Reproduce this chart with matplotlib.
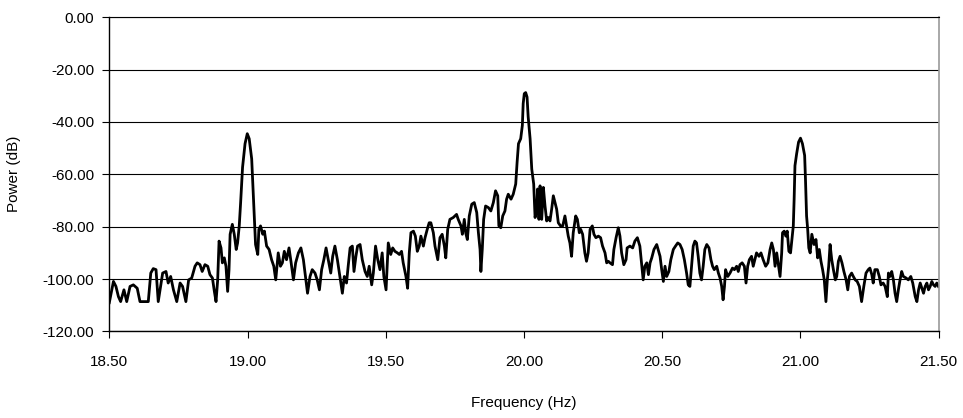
import matplotlib
matplotlib.use('Agg')
import matplotlib.pyplot as plt

plt.rcParams['font.family'] = ['Liberation Sans', 'DejaVu Sans']

# spectrum trace (Hz, dB)
freq = [18.500, 18.515, 18.524, 18.533, 18.541, 18.553, 18.563, 18.575, 18.587, 18.601,
        18.611, 18.641, 18.650, 18.659, 18.669, 18.677, 18.693, 18.705, 18.713, 18.722,
        18.732, 18.744, 18.756, 18.765, 18.777, 18.787, 18.798, 18.810, 18.818,
        18.828, 18.836, 18.846, 18.856, 18.864, 18.873, 18.880, 18.886, 18.892, 18.897,
        18.904, 18.909, 18.916, 18.922, 18.928, 18.933, 18.937, 18.945, 18.952, 18.959,
        18.964, 18.970, 18.975, 18.982, 18.991, 18.999, 19.006, 19.015, 19.021, 19.025,
        19.029, 19.037, 19.041, 19.047, 19.055, 19.061, 19.069, 19.078, 19.087, 19.095,
        19.102, 19.108, 19.111, 19.119, 19.126, 19.133, 19.141, 19.150, 19.157, 19.166,
        19.174, 19.184, 19.193, 19.202, 19.210, 19.217, 19.226, 19.234,
        19.244, 19.252, 19.260, 19.268, 19.276, 19.284, 19.292, 19.301, 19.308, 19.316,
        19.325, 19.334, 19.343, 19.350, 19.358, 19.364, 19.371, 19.379, 19.385, 19.392,
        19.398, 19.407, 19.415, 19.425, 19.433, 19.440, 19.449, 19.455, 19.463, 19.471,
        19.479, 19.487, 19.493, 19.501, 19.509, 19.518, 19.525, 19.533, 19.542, 19.549,
        19.557, 19.563, 19.573, 19.579, 19.585, 19.591, 19.600, 19.607, 19.614, 19.621,
        19.627, 19.636, 19.642, 19.650, 19.657,
        19.663, 19.672, 19.678, 19.688, 19.696, 19.704, 19.712, 19.717, 19.724, 19.732,
        19.744, 19.756, 19.762, 19.772, 19.777, 19.784, 19.789, 19.795, 19.802, 19.811,
        19.820, 19.829, 19.835, 19.841, 19.844, 19.849, 19.854, 19.861, 19.871, 19.880,
        19.889, 19.897, 19.905, 19.909, 19.916, 19.923, 19.931, 19.937, 19.943, 19.953,
        19.961, 19.970, 19.975, 19.980, 19.988, 19.994, 19.997, 20.001, 20.006, 20.011,
        20.015, 20.022, 20.028, 20.035, 20.040, 20.046, 20.049, 20.054,
        20.058, 20.064, 20.070, 20.076, 20.082, 20.088, 20.094, 20.100, 20.106, 20.112,
        20.118, 20.124, 20.132, 20.140, 20.148, 20.154, 20.160, 20.166, 20.172, 20.178,
        20.187, 20.193, 20.200, 20.205, 20.212, 20.220, 20.226, 20.232, 20.239, 20.247,
        20.253, 20.260, 20.269, 20.277, 20.284, 20.293, 20.299, 20.305, 20.311, 20.320,
        20.325, 20.333, 20.341, 20.347, 20.353, 20.361, 20.369, 20.373, 20.383, 20.393,
        20.401, 20.410, 20.419, 20.425, 20.431, 20.437, 20.444, 20.450, 20.456, 20.462,
        20.470, 20.480,
        20.492, 20.498, 20.504, 20.510, 20.516, 20.524, 20.531, 20.540, 20.548, 20.556,
        20.564, 20.572, 20.580, 20.588, 20.594, 20.600, 20.606, 20.612, 20.618, 20.624,
        20.630, 20.636, 20.642, 20.648, 20.654, 20.661, 20.669, 20.676, 20.682, 20.688,
        20.697, 20.703, 20.709, 20.715, 20.720, 20.725, 20.729, 20.737, 20.745, 20.754,
        20.761, 20.769, 20.775, 20.781, 20.789, 20.797, 20.803, 20.809, 20.815, 20.823,
        20.829, 20.835, 20.841, 20.850, 20.857, 20.865, 20.874, 20.882, 20.890, 20.896,
        20.902, 20.908, 20.914, 20.920, 20.926, 20.932, 20.935, 20.941, 20.947, 20.952,
        20.958, 20.964, 20.969, 20.974, 20.977, 20.980, 20.986, 20.993, 21.000, 21.007,
        21.015, 21.018, 21.022, 21.026, 21.030, 21.035, 21.041, 21.049, 21.056, 21.062,
        21.068, 21.074, 21.080, 21.086, 21.092, 21.097, 21.102, 21.107, 21.113, 21.119,
        21.126, 21.131, 21.137, 21.143, 21.150, 21.157, 21.165, 21.171, 21.177, 21.185,
        21.191, 21.198, 21.205, 21.213, 21.221, 21.229, 21.237, 21.245, 21.251, 21.258,
        21.263, 21.269, 21.278, 21.285, 21.291, 21.299, 21.306, 21.314,
        21.318, 21.324, 21.330, 21.336, 21.342, 21.348, 21.354, 21.360, 21.366, 21.372,
        21.382, 21.390, 21.399, 21.406, 21.415, 21.421, 21.427, 21.433, 21.439, 21.445,
        21.451, 21.457, 21.463, 21.469, 21.475, 21.481, 21.487, 21.493, 21.499]

power = [-109.0, -100.9, -102.8, -106.7, -108.6, -104.1, -108.6, -102.8, -102.2, -103.5,
         -108.6, -108.6, -97.7, -96.0, -96.4, -108.6, -97.7, -97.1, -101.5, -99.0,
         -104.1, -108.6, -101.5, -102.8, -108.6, -100.3, -99.6, -95.1, -93.8,
         -94.5, -97.1, -94.5, -95.1, -98.3, -99.6, -104.7, -108.6, -100.3, -85.5,
         -88.1, -93.8, -91.9, -95.1, -104.7, -96.4, -82.9, -79.1, -82.9, -88.7,
         -86.2, -79.7, -70.8, -57.3, -48.3, -44.5, -46.4, -54.1, -68.2, -77.2,
         -86.8, -90.6, -81.0, -79.7, -82.9, -81.7, -87.4, -88.7, -92.6, -95.1,
         -100.3, -93.2, -90.0, -95.1, -93.8, -89.4, -92.6, -88.1, -93.2, -100.3,
         -93.8, -90.0, -88.1, -92.6, -99.6, -105.4, -99.0, -96.4,
         -97.7, -100.3, -104.1, -96.4, -92.6, -88.1, -92.6, -97.7, -91.3, -87.4,
         -92.6, -99.0, -105.4, -99.0, -101.5, -95.1, -88.1, -87.4, -97.1, -91.3,
         -87.4, -86.8, -92.6, -97.1, -99.0, -95.1, -102.2, -97.7, -87.4, -92.6,
         -96.4, -90.0, -99.0, -104.1, -86.2, -90.6, -88.1, -89.4, -90.0, -90.6,
         -89.4, -93.8, -99.0, -103.5, -90.0, -82.3, -81.7, -83.6, -89.4, -87.4,
         -83.6, -87.4, -84.2, -81.0, -78.5,
         -78.5, -82.3, -87.4, -92.6, -84.2, -82.9, -87.4, -91.9, -81.0, -77.2,
         -76.5, -75.3, -77.2, -79.7, -82.9, -77.2, -82.3, -84.9, -75.9, -71.4,
         -70.8, -74.6, -82.3, -88.7, -97.1, -88.7, -77.2, -72.1, -72.7, -74.0,
         -70.8, -66.3, -68.2, -79.7, -80.4, -75.9, -74.0, -69.5, -67.6, -69.5,
         -67.6, -63.7, -55.4, -48.3, -46.4, -41.3, -33.0, -29.2, -28.8, -30.5,
         -38.0, -46.4, -58.0, -63.7, -76.5, -73.3, -65.6, -77.2,
         -64.4, -77.2, -65.0, -72.1, -77.8, -76.5, -77.8, -73.3, -68.2, -70.8,
         -73.3, -78.5, -79.7, -79.7, -75.9, -79.7, -83.6, -86.2, -91.3, -82.3,
         -75.9, -77.2, -82.3, -81.0, -82.9, -90.0, -93.2, -90.0, -81.0, -79.7,
         -82.9, -84.2, -83.6, -84.2, -87.4, -90.0, -93.8, -93.2, -93.8, -94.5,
         -88.7, -84.2, -80.4, -83.6, -90.0, -94.5, -92.6, -88.1, -87.4, -88.1,
         -85.5, -84.2, -87.4, -93.8, -100.3, -95.1, -93.8, -98.3, -93.8, -91.9,
         -88.7, -86.8,
         -91.3, -96.4, -100.9, -95.1, -99.0, -97.1, -92.6, -88.7, -87.4, -86.2,
         -86.8, -88.7, -92.6, -97.7, -102.2, -102.8, -95.1, -87.4, -85.5, -86.2,
         -91.3, -97.7, -100.3, -95.1, -88.7, -86.8, -88.1, -92.6, -95.1, -96.4,
         -95.1, -97.7, -99.6, -102.8, -107.9, -102.8, -96.4, -99.0, -97.7, -95.8,
         -96.4, -95.1, -97.1, -94.5, -93.8, -95.1, -101.5, -95.1, -92.6, -91.3,
         -95.1, -92.6, -90.0, -91.3, -90.0, -92.6, -95.1, -93.8, -88.7, -86.2,
         -88.7, -95.1, -90.0, -94.5, -99.0, -90.0, -82.3, -81.7, -83.6, -81.7,
         -89.4, -90.0, -84.9, -79.7, -69.5, -56.7, -52.2, -47.7, -46.2, -48.3,
         -52.8, -61.8, -75.9, -81.0, -88.1, -90.0, -82.9, -86.8, -84.9, -91.9,
         -88.7, -93.2, -96.4, -100.3, -108.6, -100.3, -95.1, -86.8, -92.6, -96.4,
         -100.3, -99.0, -93.2, -91.3, -93.8, -97.1, -100.3, -104.1, -99.0, -97.7,
         -99.0, -100.3, -100.9, -102.8, -108.6, -102.8, -97.7, -96.4, -95.8, -98.3,
         -101.5, -96.4, -96.4, -99.0, -102.2, -101.5, -102.8, -106.7,
         -97.7, -99.0, -97.1, -100.3, -105.4, -108.6, -104.1, -100.3, -97.1, -99.0,
         -99.6, -100.3, -99.0, -101.5, -106.7, -108.6, -104.1, -101.5, -103.5, -105.4,
         -102.8, -101.5, -104.1, -102.8, -100.9, -102.2, -102.8, -101.5, -102.8]

x_ticks = [18.5, 19.0, 19.5, 20.0, 20.5, 21.0, 21.5]
y_ticks = [0, -20, -40, -60, -80, -100, -120]

fig = plt.figure(figsize=(9.63, 4.18), dpi=100)
ax = fig.add_axes([0.1135, 0.207, 0.8613, 0.752])

ax.plot(freq, power, color='black', lw=2.0, solid_joinstyle='round')

ax.set_xlim(18.5, 21.5)
ax.set_ylim(-120, 0)
ax.set_xticks(x_ticks)
ax.set_xticklabels([f'{t:.2f}' for t in x_ticks], fontsize=11)
ax.set_yticks(y_ticks)
ax.set_yticklabels([f'{t:.2f}' for t in y_ticks], fontsize=11)
ax.yaxis.grid(True, color='black', lw=0.8)
ax.set_axisbelow(True)
ax.tick_params(direction='out', length=5, width=0.8, color='black')
ax.tick_params(axis='x', pad=12)
ax.tick_params(axis='y', pad=6)

for s in ['left', 'bottom']:
    ax.spines[s].set_color('black')
    ax.spines[s].set_linewidth(1.0)
ax.spines['right'].set_color('#999999')
ax.spines['right'].set_linewidth(1.2)
ax.spines['top'].set_color('black')
ax.spines['top'].set_linewidth(0.8)

ax.set_xlabel('Frequency (Hz)', fontsize=11)
ax.xaxis.set_label_coords(0.5, -0.205)
ax.set_ylabel('Power (dB)', fontsize=11)
ax.yaxis.set_label_coords(-0.106, 0.5)

fig.savefig('out.png', dpi=100)
